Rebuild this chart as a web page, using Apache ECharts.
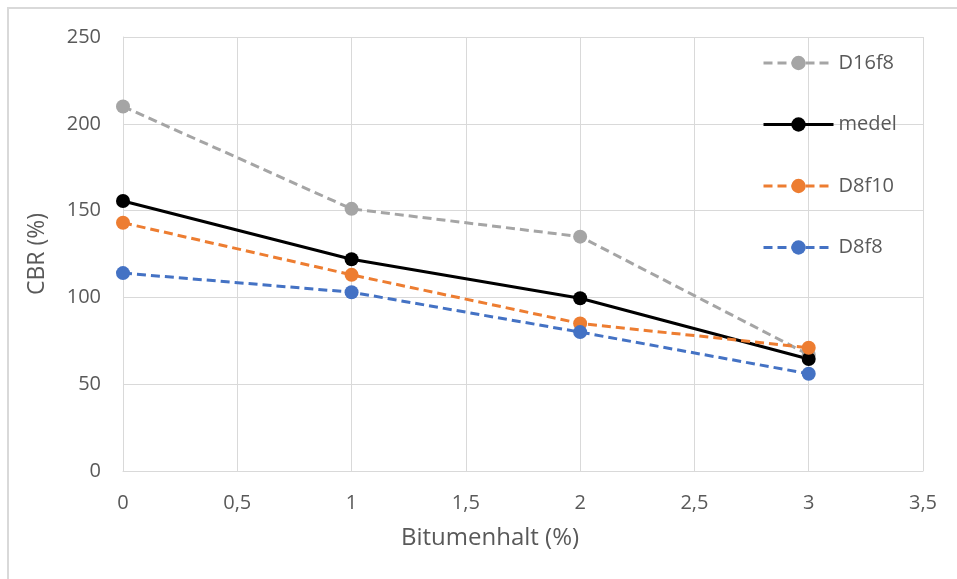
<!DOCTYPE html>
<html>
<head>
<meta charset="utf-8">
<script src="https://cdn.jsdelivr.net/npm/echarts@6/dist/echarts.min.js"></script>
<style>
  html, body { margin: 0; padding: 0; background: #fff; }
  #chart { width: 957px; height: 579px; }
</style>
</head>
<body>
<div id="chart"></div>
<script>
// Bitumen content (%) on the x axis
const bitumen = [0, 1, 2, 3];
// CBR (%) per mix
const seriesNames = ['D16f8', 'medel', 'D8f10', 'D8f8'];
const d16f8 = [210, 151, 135, 67];
const medel = [155.5, 122, 99.5, 64.5];
const d8f10 = [143, 113, 85, 71];
const d8f8 = [114, 103, 80, 56];

const xTitle = 'Bitumenhalt (%)';
const yTitle = 'CBR (%)';

const FONT = '"Open Sans", "Liberation Sans", sans-serif';
const TEXT = '#595959';
const GRID = '#d9d9d9';

function pairs(ys) { return bitumen.map((x, i) => [x, ys[i]]); }

function lineSeries(name, ys, color, dashed) {
  return {
    name: name,
    type: 'line',
    data: pairs(ys),
    symbol: 'circle',
    symbolSize: 14,
    lineStyle: { color: color, width: 3, type: dashed ? [9, 5] : 'solid', cap: 'butt' },
    itemStyle: { color: color },
    emphasis: { disabled: true },
    animation: false
  };
}

const chart = echarts.init(document.getElementById('chart'), null, { renderer: 'canvas' });
chart.setOption({
  backgroundColor: '#fff',
  animation: false,
  textStyle: { fontFamily: FONT },
  graphic: [{
    type: 'rect',
    shape: { x: 8, y: 8, width: 2000, height: 2000 },
    style: { fill: 'none', stroke: GRID, lineWidth: 2 },
    silent: true
  }],
  grid: { left: 123, right: 34, top: 37, bottom: 108, containLabel: false },
  legend: {
    orient: 'vertical',
    left: 762,
    top: 53,
    padding: 0,
    itemWidth: 70,
    itemHeight: 18,
    itemGap: 41.5,
    data: seriesNames,
    lineStyle: { width: 3 },
    textStyle: { color: TEXT, fontSize: 20, fontFamily: FONT, lineHeight: 18, padding: [0, 0, 0, 0] }
  },
  xAxis: {
    type: 'value',
    min: 0,
    max: 3.5,
    interval: 0.5,
    name: xTitle,
    nameLocation: 'middle',
    nameGap: 55,
    nameTextStyle: { color: TEXT, fontSize: 24, fontFamily: FONT, padding: [0, 66, 0, 0] },
    axisLine: { show: true, lineStyle: { color: GRID, width: 1 } },
    axisTick: { show: false },
    axisLabel: {
      color: TEXT, fontSize: 20, fontFamily: FONT, margin: 22,
      formatter: v => String(v).replace('.', ',')
    },
    splitLine: { show: true, lineStyle: { color: GRID, width: 1 } }
  },
  yAxis: {
    type: 'value',
    min: 0,
    max: 250,
    interval: 50,
    name: yTitle,
    nameLocation: 'middle',
    nameGap: 74,
    nameRotate: 90,
    nameTextStyle: { color: TEXT, fontSize: 23, fontFamily: FONT },
    axisLine: { show: true, lineStyle: { color: GRID, width: 1 } },
    axisTick: { show: false },
    axisLabel: { color: TEXT, fontSize: 20, fontFamily: FONT, margin: 22 },
    splitLine: { show: true, lineStyle: { color: GRID, width: 1 } }
  },
  series: [
    lineSeries('D16f8', d16f8, '#a5a5a5', true),
    lineSeries('medel', medel, '#000000', false),
    lineSeries('D8f10', d8f10, '#ed7d31', true),
    lineSeries('D8f8', d8f8, '#4472c4', true)
  ]
});
</script>
</body>
</html>
